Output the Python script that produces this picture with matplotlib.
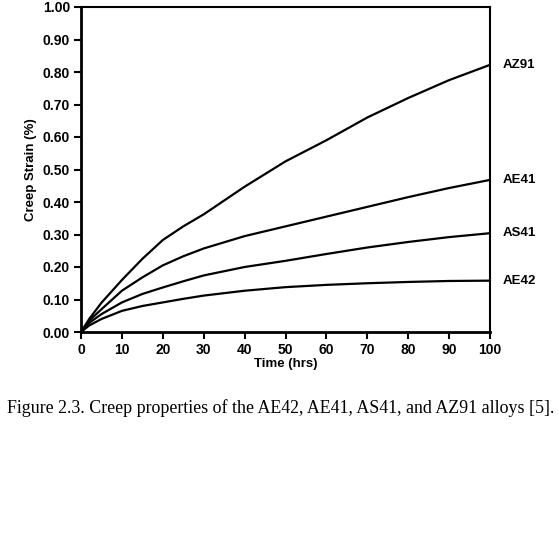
import matplotlib.pyplot as plt

# 読み取ったデータ (Time in hrs, creep strain in %)
time_hrs = [0, 2, 5, 10, 15, 20, 25, 30, 40, 50, 60, 70, 80, 90, 100]
az91 = [0, 0.040, 0.090, 0.160, 0.225, 0.283, 0.325, 0.362, 0.447, 0.525, 0.590, 0.660, 0.720, 0.775, 0.822]
ae41 = [0, 0.035, 0.070, 0.127, 0.168, 0.205, 0.233, 0.257, 0.295, 0.325, 0.355, 0.385, 0.415, 0.443, 0.468]
as41 = [0, 0.028, 0.055, 0.091, 0.117, 0.137, 0.156, 0.174, 0.200, 0.219, 0.240, 0.260, 0.277, 0.292, 0.304]
ae42 = [0, 0.020, 0.040, 0.065, 0.080, 0.091, 0.102, 0.112, 0.127, 0.138, 0.145, 0.150, 0.154, 0.157, 0.158]

alloys = ['AZ91', 'AE41', 'AS41', 'AE42']
series = [az91, ae41, as41, ae42]

xticks = list(range(0, 101, 10))
yticks = [i / 10 for i in range(11)]
caption = "Figure 2.3. Creep properties of the AE42, AE41, AS41, and AZ91 alloys [5]."

plt.rcParams['font.family'] = ['Liberation Sans', 'DejaVu Sans']

fig = plt.figure(figsize=(5.59, 5.56), dpi=100)
ax = fig.add_axes([81 / 559, 1 - 332 / 556, 409 / 559, 325 / 556])

for name, vals in zip(alloys, series):
    ax.plot(time_hrs, vals, color='black', lw=1.6)
    ax.text(103, vals[-1], name, fontsize=9.5, fontweight='bold', va='center', ha='left',
            clip_on=False)

ax.set_xlim(0, 100)
ax.set_ylim(0, 1.0)
ax.set_xticks(xticks)
ax.set_yticks(yticks)
ax.set_yticklabels(['%.2f' % v for v in yticks])
ax.tick_params(direction='out', length=5, width=1.5, labelsize=10, pad=3)
for lbl in ax.get_xticklabels() + ax.get_yticklabels():
    lbl.set_fontweight('bold')
for side in ['left', 'bottom']:
    ax.spines[side].set_linewidth(2)
for side in ['top', 'right']:
    ax.spines[side].set_linewidth(1.5)

ax.set_xlabel('Time (hrs)', fontsize=9.5, fontweight='bold', labelpad=1)
ax.set_ylabel('Creep Strain (%)', fontsize=9.5, fontweight='bold', labelpad=4)

# キャプション
fig.text(281 / 559, 1 - 408 / 556, caption, ha='center', va='center', fontsize=12.9,
         family='Liberation Serif')

fig.savefig('out.png', dpi=100)
